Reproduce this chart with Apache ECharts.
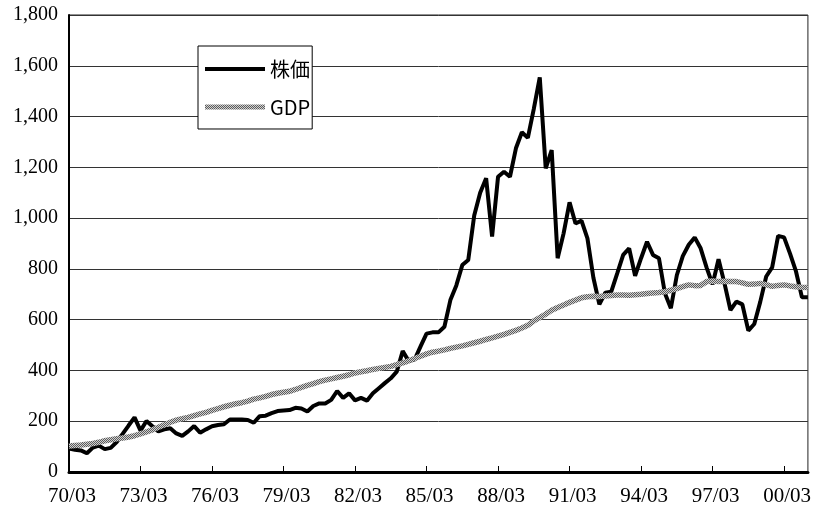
<!DOCTYPE html>
<html>
<head>
<meta charset="utf-8">
<script src="https://cdn.jsdelivr.net/npm/echarts/dist/echarts.min.js"></script>
<style>
  html, body { margin: 0; padding: 0; background: #fff; }
  #chart { width: 814px; height: 519px; }
</style>
</head>
<body>
<div id="chart"></div>
<script>
// Quarterly index values, 1970/03 .. 2001/03
const stockIndex = [
  92, 88, 85, 74, 96, 104, 90, 95, 118, 150,
  183, 215, 163, 201, 180, 160, 168, 172, 152, 142,
  160, 181, 155, 168, 180, 185, 188, 207, 207, 207,
  205, 194, 220, 222, 232, 240, 242, 244, 253, 250,
  238, 260, 270, 270, 284, 319, 292, 310, 282, 292,
  281, 310, 330, 350, 369, 395, 476, 437, 443, 495,
  545, 550, 550, 572, 677, 735, 815, 835, 1010, 1100,
  1157, 927, 1163, 1183, 1163, 1275, 1338, 1316, 1430, 1554,
  1196, 1268, 842, 940, 1062, 979, 990, 920, 765, 660,
  706, 710, 782, 855, 881, 773, 842, 907, 855, 842,
  704, 645, 775, 850, 895, 924, 881, 805, 739, 838,
  743, 638, 671, 660, 557, 583, 670, 770, 806, 930,
  924, 860, 790, 688, 688
];
const gdpIndex = [
  102, 104, 106, 109, 112, 117, 123, 127, 131, 134,
  138, 143, 150, 158, 166, 176, 186, 196, 204, 210,
  215, 222, 229, 235, 243, 250, 257, 263, 269, 273,
  279, 287, 292, 298, 305, 310, 314, 318, 325, 333,
  341, 348, 356, 362, 367, 372, 377, 383, 390, 395,
  399, 404, 408, 412, 416, 423, 430, 438, 447, 456,
  465, 472, 476, 481, 487, 492, 497, 503, 509, 515,
  522, 528, 535, 542, 550, 558, 567, 578, 595, 608,
  622, 637, 648, 658, 668, 677, 686, 690, 692, 691,
  693, 695, 697, 697, 696, 698, 700, 703, 705, 707,
  710, 716, 722, 730, 737, 734, 735, 750, 752, 750,
  751, 750, 750, 745, 739, 740, 743, 738, 731, 735,
  737, 733, 730, 728, 727
];
const seriesNames = ['株価', 'GDP'];
const quarterMonths = ['03', '06', '09', '12'];
const startYear = 1970;

// Quarter labels "YY/MM"
const quarters = [];
for (let i = 0; i < stockIndex.length; i++) {
  const y = startYear + Math.floor(i / 4);
  quarters.push(String(y % 100).padStart(2, '0') + '/' + quarterMonths[i % 4]);
}

// Fine checker texture for the GDP line
const tex = document.createElement('canvas');
tex.width = 2; tex.height = 2;
const tctx = tex.getContext('2d');
tctx.fillStyle = '#d0d0d0'; tctx.fillRect(0, 0, 2, 2);
tctx.fillStyle = '#5c5c5c'; tctx.fillRect(0, 0, 1, 1); tctx.fillRect(1, 1, 1, 1);
const gdpColor = { image: tex, repeat: 'repeat' };

const chart = echarts.init(document.getElementById('chart'), null, { renderer: 'canvas' });
chart.setOption({
  animation: false,
  backgroundColor: '#fff',
  grid: {
    left: 69, right: 2, top: 15, bottom: 47,
    show: true, borderColor: '#222', borderWidth: 1
  },
  legend: {
    orient: 'vertical',
    left: 198, top: 46,
    padding: [13, 2, 12, 7],
    itemGap: 18,
    itemWidth: 60, itemHeight: 20,
    backgroundColor: '#fff',
    borderColor: '#000', borderWidth: 1,
    textStyle: { fontFamily: '"Noto Sans CJK JP", sans-serif', fontSize: 20, color: '#000' },
    data: [
      { name: seriesNames[0], icon: 'path://M0,8H60V12H0Z', itemStyle: { color: '#000' } },
      { name: seriesNames[1], icon: 'path://M0,7.5H60V12.5H0Z', itemStyle: { color: gdpColor } }
    ]
  },
  xAxis: {
    type: 'category',
    data: quarters,
    boundaryGap: false,
    axisLine: { lineStyle: { color: '#000', width: 3 } },
    axisTick: { inside: true, length: 6, interval: 11, lineStyle: { color: '#000', width: 1 } },
    axisLabel: {
      interval: 11, margin: 14, padding: [0, 0, 0, 6],
      fontFamily: '"Liberation Serif", serif', fontSize: 21, color: '#000'
    },
    splitLine: { show: false }
  },
  yAxis: {
    type: 'value',
    min: 0, max: 1800, interval: 200,
    axisLine: { show: true, lineStyle: { color: '#000', width: 2 } },
    axisTick: { show: false },
    axisLabel: {
      margin: 11,
      fontFamily: '"Liberation Serif", serif', fontSize: 20, color: '#000',
      formatter: v => v.toLocaleString('en-US')
    },
    splitLine: { lineStyle: { color: '#333', width: 1 } }
  },
  series: [
    {
      name: seriesNames[0], type: 'line', data: stockIndex,
      symbol: 'none', smooth: false,
      lineStyle: { color: '#000', width: 4 },
      itemStyle: { color: '#000' }
    },
    {
      name: seriesNames[1], type: 'line', data: gdpIndex,
      symbol: 'none', smooth: false,
      lineStyle: { color: gdpColor, width: 5.5 },
      itemStyle: { color: '#9a9a9a' }
    }
  ]
});
</script>
</body>
</html>
